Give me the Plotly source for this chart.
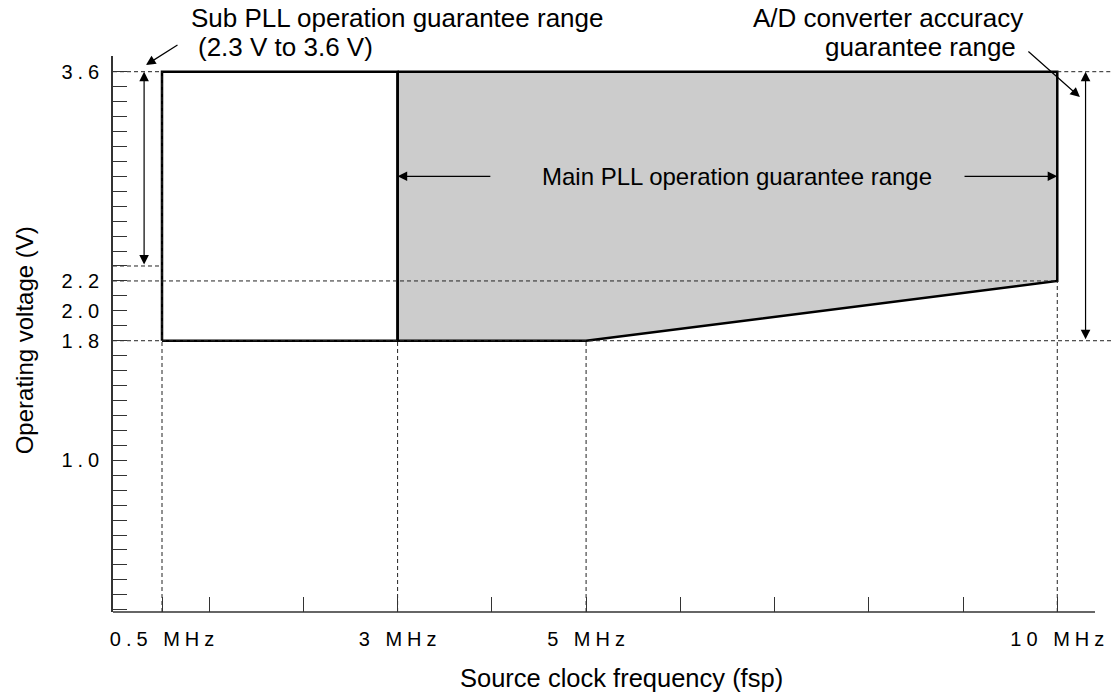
import plotly.graph_objects as go

# ---------------- data ----------------
FREQ_TICKS = [0.5, 1, 2, 3, 4, 5, 6, 7, 8, 9, 10]
FREQ_TICK_TEXT = ["0.5 MHz", "", "", "3 MHz", "", "5 MHz", "", "", "", "", "10 MHz"]
VOLT_TICKS = [1.0, 1.8, 2.0, 2.2, 3.6]
VOLT_TICK_TEXT = ["1.0", "1.8", "2.0", "2.2", "3.6"]

MAIN_FREQ = [3, 10, 10, 5, 3]          # main PLL operation guarantee region
MAIN_VOLT = [3.6, 3.6, 2.2, 1.8, 1.8]
SUB_FREQ = [0.5, 3, 3, 0.5]            # sub PLL region outline
SUB_VOLT = [1.8, 1.8, 3.6, 3.6]
SUB_PLL_RANGE = [2.3, 3.6]             # V
AD_RANGE = [1.8, 3.6]                  # V
MAIN_ARROW_VOLT = 2.9
MAIN_ARROW_TAILS = [4.0, 9.0]          # MHz

X_RANGE = [-0.02, 10.57]
Y_RANGE = [-0.015, 3.705]
X_AXIS_END = 10.4

FONT = "Liberation Sans, Arial, sans-serif"
DASH = "4px,3px"


def spaced(s):
    return "\u2005".join(s) if s else ""


fig = go.Figure()

# main region (grey)
fig.add_trace(go.Scatter(
    x=MAIN_FREQ + [MAIN_FREQ[0]], y=MAIN_VOLT + [MAIN_VOLT[0]],
    mode="lines", fill="toself", fillcolor="#cccccc",
    line=dict(color="black", width=2.5), hoverinfo="skip"))

# sub PLL outline
fig.add_trace(go.Scatter(
    x=SUB_FREQ + [SUB_FREQ[0]], y=SUB_VOLT + [SUB_VOLT[0]],
    mode="lines", line=dict(color="black", width=2.5), hoverinfo="skip"))

# dashed guide lines
x0, xr = X_RANGE
y0 = Y_RANGE[0]
f_sub = SUB_FREQ[0]
f_main_lo = MAIN_FREQ[0]
f_knee = MAIN_FREQ[3]
f_max = MAIN_FREQ[1]
v_top = MAIN_VOLT[0]
v_knee = MAIN_VOLT[2]
v_min = MAIN_VOLT[3]
gx, gy = [], []
for xa, xb, v in [(x0, f_sub, v_top), (f_max, xr, v_top),
                  (x0, f_sub, SUB_PLL_RANGE[0]), (x0, f_max, v_knee),
                  (x0, xr, v_min)]:
    gx += [xa, xb, None]
    gy += [v, v, None]
for f, vt in [(f_sub, v_top), (f_main_lo, v_min), (f_knee, v_min), (f_max, v_knee)]:
    gx += [f, f, None]
    gy += [y0, vt, None]
fig.add_trace(go.Scatter(x=gx, y=gy, mode="lines",
                         line=dict(color="#222222", width=1, dash=DASH),
                         hoverinfo="skip"))

# x axis line (ends before the right edge)
fig.add_shape(type="line", xref="x", yref="paper", x0=x0, x1=X_AXIS_END, y0=0, y1=0,
              line=dict(color="#333333", width=1.5))

ann = []
arrow_style = dict(showarrow=True, arrowhead=2, arrowsize=1.6, arrowwidth=1.2,
                   arrowcolor="black", text="", standoff=0, startstandoff=0)
# main PLL horizontal arrows
ann.append(dict(x=f_main_lo, y=MAIN_ARROW_VOLT, ax=MAIN_ARROW_TAILS[0], ay=MAIN_ARROW_VOLT,
                xref="x", yref="y", axref="x", ayref="y", **arrow_style))
ann.append(dict(x=f_max, y=MAIN_ARROW_VOLT, ax=MAIN_ARROW_TAILS[1], ay=MAIN_ARROW_VOLT,
                xref="x", yref="y", axref="x", ayref="y", **arrow_style))
# vertical double arrows
ann.append(dict(x=0.31, y=SUB_PLL_RANGE[1], ax=0.31, ay=SUB_PLL_RANGE[0],
                xref="x", yref="y", axref="x", ayref="y", arrowside="end+start", **arrow_style))
ann.append(dict(x=10.3, y=AD_RANGE[1], ax=10.3, ay=AD_RANGE[0],
                xref="x", yref="y", axref="x", ayref="y", arrowside="end+start", **arrow_style))
# pointer arrows
ann.append(dict(x=0.33, y=3.645, ax=33, ay=-21, xref="x", yref="y", **arrow_style))
ann.append(dict(x=10.24, y=3.43, ax=-53, ay=-47, xref="x", yref="y", **arrow_style))

tf = dict(family=FONT, size=26, color="black")
ann.append(dict(x=6.6, y=MAIN_ARROW_VOLT, xref="x", yref="y", showarrow=False,
                text="Main PLL operation guarantee range", font=dict(family=FONT, size=24, color="black")))
ann.append(dict(x=0.79, y=1.0692, xref="x", yref="paper", xanchor="left", yanchor="middle",
                showarrow=False, text="Sub PLL operation guarantee range", font=tf))
ann.append(dict(x=0.86, y=1.0162, xref="x", yref="paper", xanchor="left", yanchor="middle",
                showarrow=False, text="(2.3 V to 3.6 V)", font=tf))
ann.append(dict(x=9.66, y=1.0692, xref="x", yref="paper", xanchor="right", yanchor="middle",
                showarrow=False, text="A/D converter accuracy", font=tf))
ann.append(dict(x=9.58, y=1.0162, xref="x", yref="paper", xanchor="right", yanchor="middle",
                showarrow=False, text="guarantee range", font=tf))
# axis titles
ann.append(dict(x=0.51, y=-0.119, xref="paper", yref="paper", xanchor="center", yanchor="middle",
                showarrow=False, text="Source clock frequency (fsp)",
                font=dict(family=FONT, size=25.5, color="black")))
ann.append(dict(x=-0.089, y=0.489, xref="paper", yref="paper", xanchor="center", yanchor="middle",
                showarrow=False, textangle=-90, text="Operating voltage (V)",
                font=dict(family=FONT, size=24, color="black")))

fig.update_layout(
    width=1111, height=697,
    margin=dict(l=113, r=0, t=56, b=85),
    plot_bgcolor="white", paper_bgcolor="white",
    showlegend=False,
    annotations=ann,
    xaxis=dict(range=X_RANGE, tickmode="array", tickvals=FREQ_TICKS,
               ticktext=[spaced(t) for t in FREQ_TICK_TEXT],
               ticks="inside", ticklen=15, tickwidth=1.2, tickcolor="#333333",
               showgrid=False, zeroline=False, showline=False,
               ticklabelstandoff=13,
               tickfont=dict(family=FONT, size=20, color="black")),
    yaxis=dict(range=Y_RANGE, tickmode="array", tickvals=VOLT_TICKS,
               ticktext=[spaced(t) for t in VOLT_TICK_TEXT],
               ticks="inside", ticklen=14, tickwidth=1.2, tickcolor="#333333",
               minor=dict(tick0=0, dtick=0.1, ticks="inside", ticklen=14,
                          tickwidth=1.2, tickcolor="#333333"),
               showgrid=False, zeroline=False, showline=True,
               linecolor="#333333", linewidth=1.5,
               ticklabelstandoff=8,
               tickfont=dict(family=FONT, size=20, color="black")),
)

# remove the default 8px page margin so the figure fills the window exactly
fig.write_html("out.html", config={"displayModeBar": False},
               post_script="document.body.style.margin='0px';")
